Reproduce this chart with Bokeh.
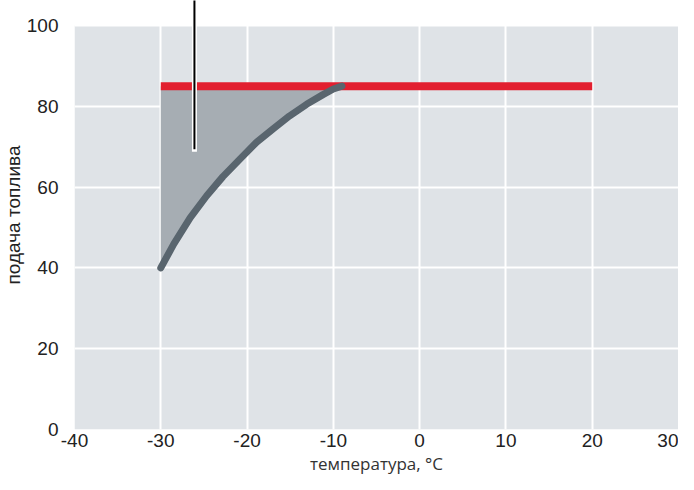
from bokeh.plotting import figure
from bokeh.models import Range1d, FixedTicker, Title
from bokeh.embed import file_html
from bokeh.resources import INLINE

# data
x_ticks = [-40, -30, -20, -10, 0, 10, 20, 30]
y_ticks = [0, 20, 40, 60, 80, 100]
full_x = [-30, 20]
full_y = [85, 85]
curve_x = [-30, -28.5, -26.6, -24.7, -22.8, -20.8, -18.9, -17.0, -15.1, -13.1, -11.2, -10.0, -9.0]
curve_y = [40, 45.9, 52.4, 57.8, 62.6, 67.0, 71.1, 74.4, 77.6, 80.5, 82.9, 84.3, 85]
pointer_x = -26.1
pointer_y0 = 69.4
pointer_y1 = 108
x_title = "температура, °C"
y_title = "подача топлива"

p = figure(width=678, height=474, output_backend="svg", toolbar_location=None,
           x_range=Range1d(-40, 30), y_range=Range1d(0, 106.2),
           min_border_top=0, min_border_left=73, min_border_right=0, min_border_bottom=41)
p.outline_line_color = None
p.background_fill_color = "white"
p.border_fill_color = "white"

# plot area background
bg = p.quad(left=[x_ticks[0]], right=[x_ticks[-1]], bottom=[y_ticks[0]], top=[y_ticks[-1]],
            fill_color="#dfe3e7", line_color=None)
bg.level = "image"

p.xgrid.ticker = FixedTicker(ticks=x_ticks)
p.ygrid.ticker = FixedTicker(ticks=y_ticks)
p.grid.grid_line_color = "white"
p.grid.grid_line_width = 2

# shaded area
p.varea(x=curve_x, y1=curve_y, y2=[full_y[0]] * len(curve_x), fill_color="#a6adb3")
# full line
p.line(full_x, full_y, line_color="#e21f2f", line_width=8, line_cap="butt")
# curve
p.line(curve_x, curve_y, line_color="#59656e", line_width=7, line_cap="round")
# pointer
p.segment(x0=[pointer_x], y0=[pointer_y0], x1=[pointer_x], y1=[pointer_y1],
          line_color="white", line_width=5, line_cap="square")
p.segment(x0=[pointer_x], y0=[pointer_y0], x1=[pointer_x], y1=[pointer_y1],
          line_color="black", line_width=2, line_cap="butt")

for ax in (p.xaxis, p.yaxis):
    ax.axis_line_color = None
    ax.major_tick_line_color = None
    ax.minor_tick_line_color = None
    ax.major_tick_out = 0
    ax.minor_tick_out = 0
    ax.major_tick_in = 0
    ax.minor_tick_in = 0
    ax.major_label_text_font = "Liberation Sans"
    ax.major_label_text_font_size = "19px"
    ax.major_label_text_color = "#222222"

p.xaxis.ticker = FixedTicker(ticks=x_ticks)
p.yaxis.ticker = FixedTicker(ticks=y_ticks)
p.xaxis.major_label_overrides = {t: str(t) for t in x_ticks}
p.xaxis.major_label_standoff = 4
p.yaxis.major_label_standoff = 16

p.add_layout(Title(text=x_title, align="center", offset=-27, standoff=0,
                   text_font="Open Sans", text_font_size="17px", text_font_style="normal",
                   text_color="#333333"), "below")
p.add_layout(Title(text=y_title, align="center", offset=-13, standoff=0,
                   text_font="Liberation Sans", text_font_size="19px", text_font_style="normal",
                   text_color="#222222"), "left")

open("out.html", "w").write(file_html(p, INLINE))
